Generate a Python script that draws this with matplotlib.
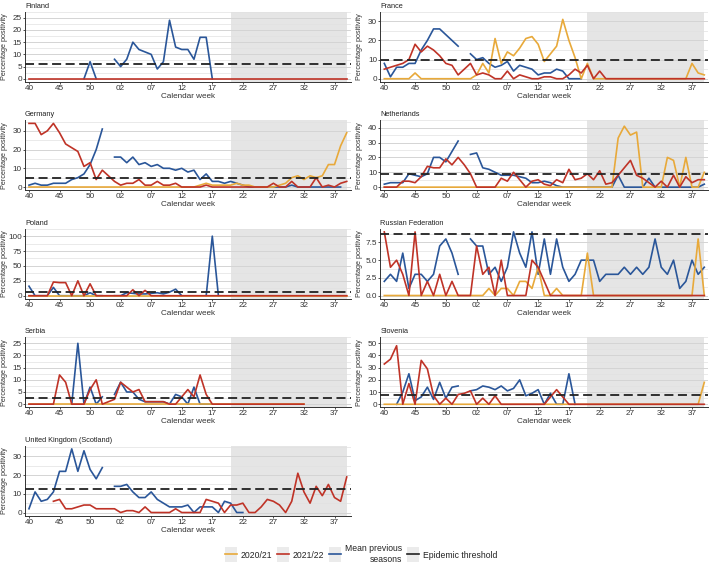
import numpy as np
import matplotlib.pyplot as plt
from matplotlib.lines import Line2D
from matplotlib.patches import Rectangle
from matplotlib.legend_handler import HandlerLine2D

nan = np.nan
plt.rcParams['font.family'] = ['Liberation Sans', 'DejaVu Sans']

# season runs week 40 -> 53 -> 39
weeks = list(range(40, 54)) + list(range(1, 40))
xtick_weeks = [40, 45, 50, 2, 7, 12, 17, 22, 27, 32, 37]
off_season = (20, 39)

col_2021 = '#E8A93A'
col_2122 = '#BF3327'
col_mean = '#2A5699'

# Finland
fin_2122 = [0, 0, 0, 0, 0, 0, 0, 0, 0, 0, 0, 0, 0, 0, 0, 0, 0, 0, 0, 0, 0, 0, 0, 0, 0, 0,
            0, 0, 0, 0, 0, 0, 0, 0, 0, 0, 0, 0, 0, 0, 0, 0, 0, 0, 0, 0, 0, 0, 0, 0, 0, 0, 0]
fin_mean = [nan, nan, nan, nan, nan, nan, nan, nan, nan, 0, 7, 0, nan, nan,
            8, 5, 8, 15, 12, 11, 10, 4, 7, 24, 13, 12, 12, 8, 17, 17, 0,
            nan, nan, nan, nan, nan, nan, nan, nan, nan, nan, nan, nan, nan, nan, nan, nan,
            nan, nan, nan, nan, nan, nan]
fin_thr = 6.1
fin_yticks = [0, 5, 10, 15, 20, 25]

# France
fra_2021 = [0, 0, 0, 0, 0, 3, 0, 0, 0, 0, 0, 0, 0, 0, 0, 2, 8, 3, 21, 8, 14, 12, 16, 21, 22,
            18, 9, 13, 17, 31, 20, 11, 0, 8, 0, 0, 0, 0, 0, 0, 0, 0, 0, 0, 0, 0, 0, 0, 0, 0,
            8, 3, 2]
fra_2122 = [5, 6, 7, 8, 10, 18, 14, 17, 15, 12, 8, 7, 2, 5, 8, 2, 3, 2, 0, 0, 4, 0, 2, 1, 0,
            0, 1, 1, 0, 0, 2, 5, 3, 7, 0, 4, 0, 0, 0, 0, 0, 0, 0, 0, 0, 0, 0, 0, 0, 0, 0, 0, 0]
fra_mean = [8, 1, 6, 6, 8, 8, 15, 20, 26, 26, 23, 20, 17, nan,
            13, 10, 11, 8, 6, 7, 9, 4, 7, 6, 5, 2, 3, 3, 5, 4, 0, 0, 0,
            nan, nan, nan, nan, nan, nan, nan, nan, nan, nan, nan, nan, nan, nan, nan, nan,
            nan, nan, nan, nan]
fra_thr = 9.9
fra_yticks = [0, 10, 20, 30]

# Germany
ger_2021 = [0, 0, 0, 0, 0, 0, 0, 0, 0, 0, 0, 0, 0, 0, 0, 0, 0, 0, 0, 0, 0, 0, 0, 0, 0,
            0, 0, 0, 1, 2, 1, 1, 1, 1, 2, 1, 1, 0, 0, 0, 0, 1, 2, 5, 6, 4, 6, 5, 6, 12,
            12, 22, 29]
ger_2122 = [34, 34, 28, 30, 34, 29, 23, 21, 19, 11, 13, 4, 9, 6, 3, 1, 2, 2, 4, 1, 1, 3, 1, 1, 2,
            0, 0, 0, 0, 1, 0, 0, 0, 0, 0, 0, 0, 0, 0, 0, 2, 0, 0, 3, 0, 0, 0, 5, 0, 1,
            0, 2, 3]
ger_mean = [1, 2, 1, 1, 2, 2, 2, 4, 5, 7, 12, 20, 31, nan,
            16, 16, 13, 16, 12, 13, 11, 12, 10, 10, 9, 10, 8, 9, 4, 7, 3, 3, 2, 3, 2, 1,
            0, 0, 0, 0, 0, 0, 0, 1, 0, 0, 0, 0, 0, 0, 0, 0, nan]
ger_thr = 5
ger_yticks = [0, 10, 20, 30]

# Netherlands
ned_2021 = [0, 0, 0, 0, 0, 0, 0, 0, 0, 0, 0, 0, 0, 0, 0, 0, 0, 0, 0, 0, 0, 0, 0, 0, 0,
            0, 0, 0, 0, 0, 0, 0, 0, 0, 0, 0, 0, 0, 33, 41, 35, 37, 0, 0, 0, 0, 20, 18, 0, 20,
            0, 0, 10]
ned_2122 = [0, 0, 0, 4, 4, 3, 7, 14, 13, 13, 19, 15, 20, 15, 9, 0, 0, 0, 0, 6, 4, 10, 5, 0, 4,
            5, 2, 1, 5, 3, 12, 5, 6, 9, 5, 11, 2, 3, 8, 13, 18, 8, 6, 3, 0, 4, 0, 8, 0, 7,
            3, 5, 5]
ned_mean = [2, 3, 3, 3, 9, 8, 7, 9, 20, 20, 17, 24, 31, nan,
            22, 23, 13, 12, 10, 8, 8, 8, 7, 6, 3, 3, 4, 3, 1,
            0, 0, 0, 0, 0, 0, 0, 0, 0, 8, 0, 0, 0, 0, 6, 0, 0, 0, 0, 0, 0, 0, 0, 2]
ned_thr = 8.8
ned_yticks = [0, 10, 20, 30, 40]

# Poland
pol_2021 = [0, 0, 0, 0, 0, 0, 0, 0, 0, 0, 0, 0, 0, 0, 0, 0, 0, 0, 0, 0, 0, 0, 0, 0, 0, 0,
            0, 0, 0, 0, 0, 0, 0, 0, 0, 0, 0, 0, 0, 0, 0, 0, 0, 0, 0, 0, 0, 0, 0, 0, 0, 0, 0]
pol_2122 = [0, 0, 0, 0, 23, 22, 22, 0, 25, 0, 20, 0, 0, 0, 0, 0, 0, 10, 0, 9, 0, 0, 0, 0, 0,
            0, 0, 0, 0, 0, 0, 0, 0, 0, 0, 0, 0, 0, 0, 0, 0, 0, 0, 0, 0, 0, 0, 0, 0, 0, 0, 0, 0]
pol_mean = [16, 0, 0, 0, 14, 0, 0, 0, 0, 0, 5, 0, 0, nan,
            0, 0, 5, 4, 3, 3, 4, 5, 3, 6, 11, 0, nan, nan, nan, 0, 100, 0,
            nan, nan, nan, nan, nan, nan, nan, nan, nan, nan, nan, nan, nan, nan, nan, nan,
            nan, nan, nan, nan, nan]
pol_thr = 6.7
pol_yticks = [0, 25, 50, 75, 100]

# Russian Federation
rus_2021 = [0, 0, 0, 0, 0, 0, 0, 0, 0, 0, 0, 0, 0, 0, 0, 0, 0, 1, 0, 1, 1, 0, 2, 2, 1,
            4, 0, 0, 1, 0, 0, 0, 0, 6, 0, 0, 0, 0, 0, 0, 0, 0, 0, 0, 0, 0, 0, 0, 0, 0,
            0, 8, 0]
rus_2122 = [9, 4, 5, 3, 0, 9, 0, 2, 0, 3, 0, 2, 0, 0, 0, 7, 3, 4, 0, 5, 0, 0, 0, 0, 5,
            4, 2, 0, 0, 0, 0, 0, 0, 0, 0, 0, 0, 0, 0, 0, 0, 0, 0, 0, 0, 0, 0, 0, 0, 0,
            0, 0, 0]
rus_mean = [2, 3, 2, 6, 1, 3, 3, 2, 3, 7, 8, 6, 3, nan,
            8, 7, 7, 3, 4, 2, 4, 9, 6, 4, 9, 3, 8, 3, 8, 4, 2, 3, 5, 5, 5, 2, 3, 3, 3,
            4, 3, 4, 3, 4, 8, 4, 3, 5, 1, 2, 5, 3, 4]
rus_thr = 8.7
rus_yticks = [0, 2.5, 5, 7.5]

# Serbia
srb_2021 = [0, 0, 0, 0, 0, 0, 0, 0, 0, 0, 0, 0, 0, 0, 0, 0, 0, 0, 0, 0, 0, 0, 0, 0, 0,
            0, 0, 0, 0, 0, 0, 0, 0, 0, 0, 0, 0, 0, 0, 0, 0, 0, 0, 0, 0, 0,
            nan, nan, nan, nan, nan, nan, nan]
srb_2122 = [0, 0, 0, 0, 0, 12, 9, 0, 0, 0, 6, 10, 0, 1, 2, 9, 7, 5, 6, 1, 1, 1, 1, 0, 0,
            3, 6, 3, 12, 4, 0, 0, 0, 0, 0, 0, 0, 0, 0, 0, 0, 0, 0, 0, 0, 0,
            nan, nan, nan, nan, nan, nan, nan]
srb_mean = [nan, nan, nan, nan, nan, nan, nan, 0, 25, 0, 7, 0, 3, nan,
            4, 9, 5, 5, 2, 1, 1, 1, 1, 0, 4, 3, 0, 7, 0, 0, 0,
            nan, nan, nan, nan, nan, nan, nan, nan, nan, nan, nan, nan, nan, nan, nan, nan,
            nan, nan, nan, nan, nan, nan]
srb_thr = 2.7
srb_yticks = [0, 5, 10, 15, 20, 25]

# Slovenia
slo_2021 = [0, 0, 0, 0, 0, 0, 0, 0, 0, 0, 0, 0, 0, 0, 0, 0, 0, 0, 0, 0, 0, 0, 0, 0, 0,
            0, 0, 0, 0, 0, 0, 0, 0, 0, 0, 0, 0, 0, 0, 0, 0, 0, 0, 0, 0, 0, 0, 0, 0, 0,
            0, 0, 18]
slo_2122 = [33, 37, 48, 0, 17, 0, 36, 29, 7, 0, 5, 0, 8, 9, 11, 0, 5, 0, 7, 0, 0, 0, 0, 0, 0,
            0, 0, 6, 12, 6, 0, 0, 0, 0, 0, 0, 0, 0, 0, 0, 0, 0, 0, 0, 0, 0, 0, 0, 0, 0,
            0, 0, 0]
slo_mean = [nan, nan, 0, 10, 25, 3, 6, 14, 4, 18, 5, 14, 15, nan,
            11, 12, 15, 14, 12, 15, 11, 13, 20, 7, 9, 12, 0, 9, 0, 0, 25, 0,
            nan, nan, nan, nan, nan, nan, nan, nan, nan, nan, nan, nan, nan, nan, nan, nan,
            nan, nan, nan, nan, nan]
slo_thr = 7.4
slo_yticks = [0, 10, 20, 30, 40, 50]

# United Kingdom (Scotland)
uk_2122 = [nan, nan, nan, nan, 6, 7, 2, 2, 3, 4, 4, 2, 2, 2, 2, 0, 1, 1, 0, 3, 0, 0, 0, 0, 2,
           0, 0, 0, 0, 7, 6, 5, 0, 4, 4, 5, 0, 0, 3, 7, 6, 4, 0, 6, 21, 11, 5, 14, 9, 15,
           8, 6, 19]
uk_mean = [2, 11, 6, 7, 11, 22, 22, 34, 22, 33, 23, 18, 24, nan,
           14, 14, 15, 11, 8, 8, 11, 7, 5, 3, 3, 3, 4, 0, 3, 3, 3, 0, 6, 5, 0, 0,
           nan, nan, nan, nan, nan, nan, nan, nan, nan, nan, nan, nan, nan, nan, nan, nan, nan]
uk_thr = 12.3
uk_yticks = [0, 10, 20, 30]

panels = [
    ('Finland', None, fin_2122, fin_mean, fin_thr, fin_yticks, 0, 0),
    ('France', fra_2021, fra_2122, fra_mean, fra_thr, fra_yticks, 0, 1),
    ('Germany', ger_2021, ger_2122, ger_mean, ger_thr, ger_yticks, 1, 0),
    ('Netherlands', ned_2021, ned_2122, ned_mean, ned_thr, ned_yticks, 1, 1),
    ('Poland', pol_2021, pol_2122, pol_mean, pol_thr, pol_yticks, 2, 0),
    ('Russian Federation', rus_2021, rus_2122, rus_mean, rus_thr, rus_yticks, 2, 1),
    ('Serbia', srb_2021, srb_2122, srb_mean, srb_thr, srb_yticks, 3, 0),
    ('Slovenia', slo_2021, slo_2122, slo_mean, slo_thr, slo_yticks, 3, 1),
    ('United Kingdom (Scotland)', None, uk_2122, uk_mean, uk_thr, uk_yticks, 4, 0),
]

W, H = 709, 564
fig = plt.figure(figsize=(W / 100, H / 100), dpi=100)
col_left = [25.0, 380.3]
col_width = [325.7, 328.0]
row_top = [11.7, 120.2, 228.7, 337.2, 445.7]
ax_h = 70
dark = '#333333'

x = np.arange(len(weeks))
for name, s2021, s2122, smean, thr, yt, r, c in panels:
    ax_w = col_width[c]
    ax = fig.add_axes([col_left[c] / W, 1 - (row_top[r] + ax_h) / H, ax_w / W, ax_h / H])
    ax.set_axisbelow(True)
    ax.axvspan(weeks.index(off_season[0]), weeks.index(off_season[1]),
               color='#e5e5e5', lw=0, zorder=0.2)
    series = [s for s in (s2021, s2122, smean) if s is not None]
    if smean is not None:
        ax.plot(x, smean, color=col_mean, lw=1.2, zorder=2)
    if s2021 is not None:
        ax.plot(x, s2021, color=col_2021, lw=1.2, zorder=3)
    ax.plot(x, s2122, color=col_2122, lw=1.2, zorder=4)
    ax.axhline(thr, color='#222222', lw=1.3, ls=(0, (5, 2.5)), zorder=5)

    top = max(max(np.nanmax(np.array(s, dtype=float)) for s in series), thr)
    ax.set_ylim(-0.05 * top, 1.05 * top)
    ax.set_xlim(-0.65, len(weeks) - 1 + 0.65)

    ax.set_yticks(yt)
    if name == 'Russian Federation':
        ax.set_yticklabels([f'{v:.1f}' for v in yt])
    else:
        ax.set_yticklabels([f'{v:g}' for v in yt])
    step = yt[1] - yt[0]
    ax.set_yticks([v + step / 2 for v in yt], minor=True)
    ax.set_xticks([weeks.index(w) for w in xtick_weeks])
    ax.set_xticklabels([f'{w:02d}' for w in xtick_weeks])

    ax.grid(axis='y', which='major', color='#d4d4d4', lw=0.7)
    ax.grid(axis='y', which='minor', color='#e2e2e2', lw=0.5)
    ax.tick_params(which='major', labelsize=5.9, colors=dark, length=1.6, width=0.6, pad=0.6)
    ax.tick_params(which='minor', length=0)
    for s in ('top', 'right'):
        ax.spines[s].set_visible(False)
    for s in ('left', 'bottom'):
        ax.spines[s].set_color(dark)
        ax.spines[s].set_linewidth(0.7)
    ax.set_xlabel('Calendar week', fontsize=5.9, color=dark, labelpad=0.8)
    ax.set_ylabel('Percentage positivity', fontsize=5.2, color=dark)
    # keep the y label inside the figure edge
    label_right = 8.3 + 355 * c
    ax.yaxis.set_label_coords((label_right - col_left[c]) / ax_w, 0.5)
    ax.set_title(name, loc='left', fontsize=5.3, color='#222222', pad=3)


class KeyBox(HandlerLine2D):
    def create_artists(self, legend, orig_handle, xdescent, ydescent, width, height, fontsize, trans):
        box = Rectangle((-xdescent, -ydescent - 0.7 * height), width, 2.4 * height,
                        facecolor='#ebebeb', edgecolor='none', transform=trans)
        arts = super().create_artists(legend, orig_handle, xdescent, ydescent,
                                      width, height, fontsize, trans)
        return [box] + list(arts)


handles = [Line2D([], [], color=col_2021, lw=1.2),
           Line2D([], [], color=col_2122, lw=1.2),
           Line2D([], [], color=col_mean, lw=1.2),
           Line2D([], [], color='#222222', lw=1.2)]
labels = ['2020/21', '2021/22', 'Mean previous\nseasons', 'Epidemic threshold']
leg = fig.legend(handles, labels, loc='center', bbox_to_anchor=(361 / W, 1 - 554 / H),
                 ncol=4, frameon=False, fontsize=6.2, handlelength=1.4, handletextpad=0.4,
                 columnspacing=0.6, handler_map={Line2D: KeyBox()})
for t in leg.get_texts():
    t.set_color('#222222')
leg.get_texts()[2].set_multialignment('right')

fig.savefig('out.png', dpi=100)
